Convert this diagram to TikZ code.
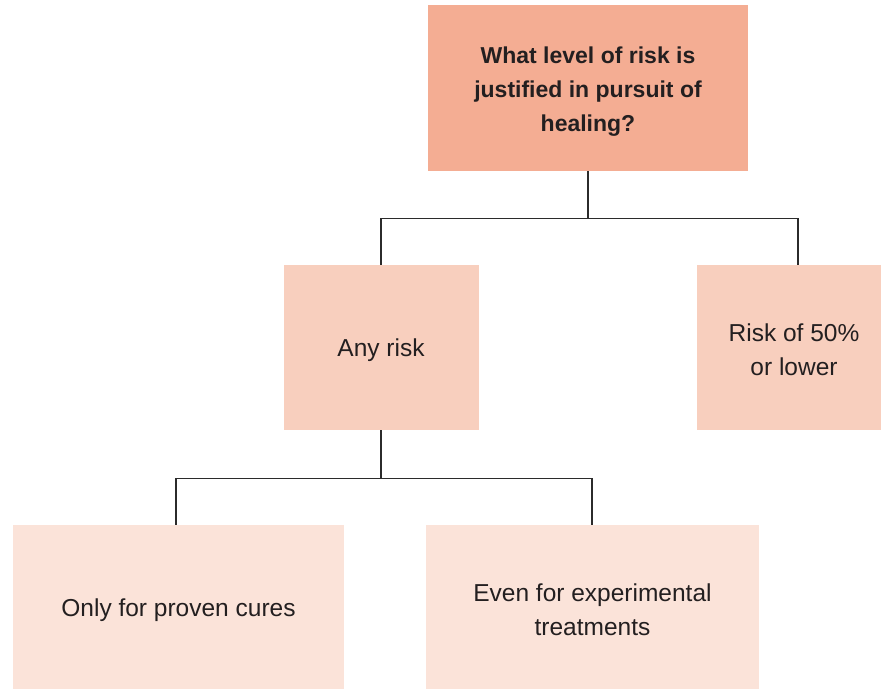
\documentclass[tikz,border=0pt]{standalone}
\usepackage{fontspec}
\setmainfont{Liberation Sans}
\definecolor{cTop}{HTML}{F4AD93}
\definecolor{cMid}{HTML}{F8CFBE}
\definecolor{cBot}{HTML}{FBE3D9}
\definecolor{cTxt}{HTML}{231F20}
\definecolor{cLine}{HTML}{2B2B2B}
\begin{document}
\begin{tikzpicture}[x=1pt,y=-1pt,
  boxbase/.style={draw=none, inner sep=0pt},
  topbox/.style={boxbase, fill=cTop},
  midbox/.style={boxbase, fill=cMid},
  botbox/.style={boxbase, fill=cBot},
  toptext/.style={inner sep=0pt, align=center, text=cTxt, font=\fontsize{23}{34}\selectfont\bfseries},
  bodytext/.style={inner sep=0pt, align=center, text=cTxt, font=\fontsize{24.5}{34}\selectfont},
  link/.style={draw=cLine, line width=1.3pt}]
\useasboundingbox (0,0) rectangle (881,689);
\clip (0,0) rectangle (881,689);
\node[topbox, minimum width=320pt, minimum height=166pt] (top) at (588,88) {};
\node[midbox, minimum width=195pt, minimum height=165pt] (any) at (381,347.5) {};
\node[midbox, minimum width=194pt, minimum height=165pt] (risk) at (794,347.5) {};
\node[botbox, minimum width=331pt, minimum height=164pt] (proven) at (178.5,607) {};
\node[botbox, minimum width=333pt, minimum height=164pt] (exp) at (592.5,607) {};
\node[toptext] (toptx) at ([yshift=-4pt]top.center) {What level of risk is\\justified in pursuit of\\healing?};
\node[bodytext] (anytx) at ([yshift=-3pt]any.center) {Any risk};
\node[bodytext] (risktx) at ([yshift=-2pt]risk.center) {Risk of 50\%\\or lower};
\node[bodytext] (proventx) at ([yshift=-3pt]proven.center) {Only for proven cures};
\node[bodytext] (exptx) at ([yshift=-3pt]exp.center) {Even for experimental\\treatments};
\draw[link] (top.south) -- ++(0,47) coordinate (tj);
\draw[link] (tj) -| (any.north);
\draw[link] (tj) -| ([xshift=4pt]risk.north);
\draw[link] (any.south) -- ++(0,48.5) coordinate (aj);
\draw[link] (aj) -| ([xshift=-2.5pt]proven.north);
\draw[link] (aj) -| ([xshift=-0.5pt]exp.north);
\end{tikzpicture}
\end{document}
